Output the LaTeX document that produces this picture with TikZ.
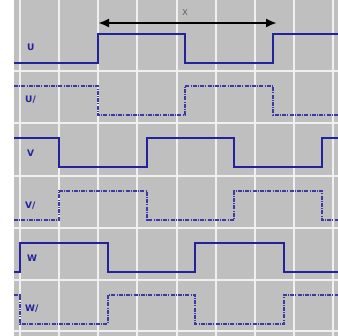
\documentclass[tikz,border=0pt]{standalone}
\usepackage{fontspec}
\setsansfont{DejaVu Sans}
\usetikzlibrary{arrows.meta}
\definecolor{bgG}{HTML}{BFBFBF}
\definecolor{grW}{HTML}{F0F0F0}
\definecolor{sigB}{HTML}{22229A}
\definecolor{dshB}{HTML}{3A3AA2}
\definecolor{xtx}{HTML}{5A5A5A}

\begin{document}
\begin{tikzpicture}[x=1pt,y=-1pt,
  font=\sffamily,
  >={Latex[length=11pt,width=9pt]},
  grd/.style={grW,line width=1.5pt},
  sig/.style={sigB,line width=2.2pt},
  sigN/.style={dshB,line width=1.6pt,dash pattern=on 4pt off 1.2pt on 1pt off 1.2pt},
  lbl/.style={anchor=west,text=sigB,inner sep=0pt,font=\sffamily\bfseries\fontsize{9}{10}\selectfont},
  ]

% ================= background + grid =================
\useasboundingbox (0,0) rectangle (338,336);
\fill[white] (0,0) rectangle (338,336);
\fill[bgG] (14,0) rectangle (338,336);
\foreach \gx in {20,59,98,137,177,216,255,294,333}{\draw[grd] (\gx,0) -- (\gx,336);}
\foreach \gy in {71,123,176,228,280,331}{\draw[grd] (14,\gy) -- (338,\gy);}

% ================= period marker =================
\coordinate (xL) at (98,23);
\coordinate (xR) at (277,23);
\draw[<->,line width=2.6pt] (xL) -- (xR);
\node[text=xtx,font=\sffamily\fontsize{8}{9}\selectfont] (xlbl) at (185,13) {X};

% ================= phase signals =================
\draw[sig]  (14,63)  -| (98,34)   -| (185,63)  -| (273,34)  -- (338,34);
\draw[sigN] (14,86)  -| (98,115)  -| (185,86)  -| (273,115) -- (338,115);
\draw[sig]  (14,138) -| (59,167)  -| (147,138) -| (234,167) -| (322,138) -- (338,138);
\draw[sigN] (14,220) -| (59,191)  -| (147,220) -| (234,191) -| (322,220) -- (338,220);
\draw[sig]  (14,272) -| (20,243)  -| (108,272) -| (195,243) -| (284,272) -- (338,272);
\draw[sigN] (14,295) -| (20,324)  -| (108,295) -| (195,324) -| (284,295) -- (338,295);

\node[lbl] (lU)  at (27,47)  {U};
\node[lbl] (lUn) at (25,100) {U/};
\node[lbl] (lV)  at (27,153) {V};
\node[lbl] (lVn) at (25,206) {V/};
\node[lbl] (lW)  at (27,258) {W};
\node[lbl] (lWn) at (25,309) {W/};

\end{tikzpicture}
\end{document}
